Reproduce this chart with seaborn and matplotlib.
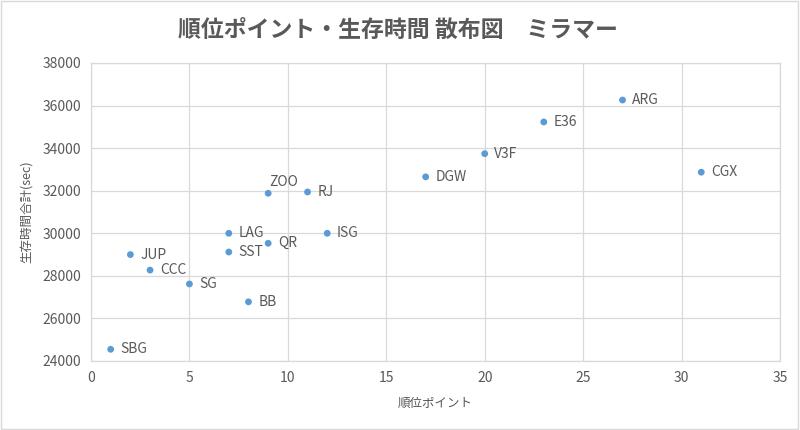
import matplotlib
matplotlib.use("Agg")
import matplotlib.pyplot as plt
import seaborn as sns
import pandas as pd
from matplotlib.patches import Rectangle

teams = ["SBG", "JUP", "CCC", "SG", "LAG", "SST", "BB", "ZOO", "QR", "RJ", "ISG",
         "DGW", "V3F", "E36", "ARG", "CGX"]
rank_points = [1, 2, 3, 5, 7, 7, 8, 9, 9, 11, 12, 17, 20, 23, 27, 31]
survival_sec = [24550, 29000, 28270, 27620, 30000, 29120, 26780, 31880, 29530, 31940, 30000,
                32650, 33740, 35230, 36260, 32870]

x_ticks = [0, 5, 10, 15, 20, 25, 30, 35]
y_ticks = [24000, 26000, 28000, 30000, 32000, 34000, 36000, 38000]

df = pd.DataFrame({"team": teams, "x": rank_points, "y": survival_sec})

sns.set_theme(style="white")
plt.rcParams["font.family"] = ["Noto Sans CJK JP", "DejaVu Sans"]

text_gray = "#595959"
grid_gray = "#D9D9D9"
dot_blue = "#5B9BD5"

fig = plt.figure(figsize=(8, 4.3), dpi=100)
ax = fig.add_axes([91 / 800, 69 / 430, 689 / 800, 298 / 430])

sns.scatterplot(data=df, x="x", y="y", ax=ax, color=dot_blue, s=24,
                edgecolor="none", zorder=3)

for t, xv, yv in zip(teams, rank_points, survival_sec):
    if t == "ZOO":
        off, va = (1, 8), "center"
    else:
        off, va = (7, 0), "center"
    ax.annotate(t, (xv, yv), xytext=off, textcoords="offset points",
                va=va, ha="left", fontsize=10, color=text_gray,
                family=["Noto Sans CJK JP", "DejaVu Sans"])

ax.set_xlim(0, 35)
ax.set_ylim(24000, 38000)
ax.set_xticks(x_ticks)
ax.set_yticks(y_ticks)
ax.grid(True, color=grid_gray, linewidth=0.9)
ax.set_axisbelow(True)
for side, sp in ax.spines.items():
    sp.set_color(grid_gray)
    sp.set_linewidth(0.9)
ax.tick_params(axis="both", length=0, labelsize=10, labelcolor=text_gray, pad=7)

ax.set_xlabel("順位ポイント", fontsize=9, color=text_gray, labelpad=9)
ax.set_ylabel("生存時間合計(sec)", fontsize=9, color=text_gray, labelpad=6)

fig.text(0.4975, 1 - 30 / 430, "順位ポイント・生存時間 散布図　ミラマー",
         ha="center", va="center", fontsize=16.5, fontweight="bold", color=text_gray)

fig.patches.append(Rectangle((0.001, 0.002), 0.997, 0.996, transform=fig.transFigure,
                             fill=False, edgecolor=grid_gray, linewidth=1))

fig.savefig("out.png", dpi=100)
